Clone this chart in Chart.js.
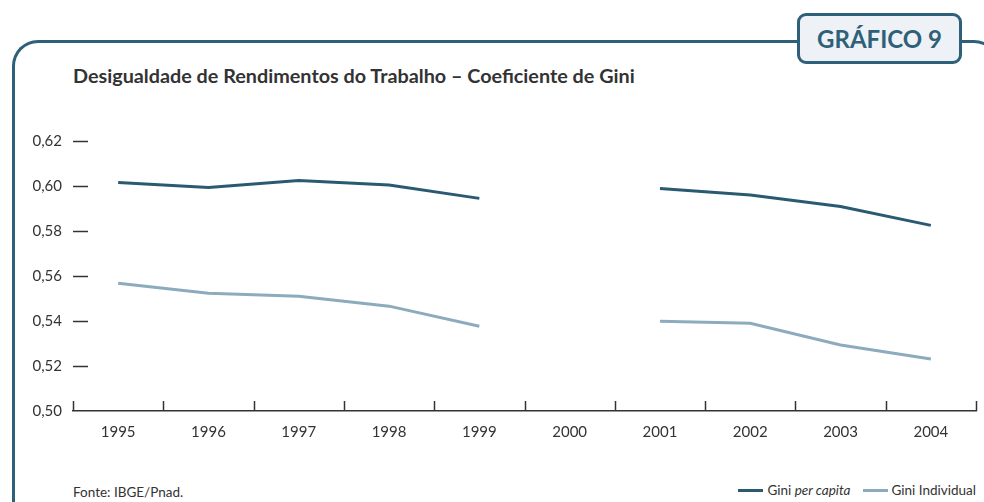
<!DOCTYPE html>
<html>
<head>
<meta charset="utf-8">
<script src="https://cdn.jsdelivr.net/npm/chart.js@4/dist/chart.umd.min.js"></script>
<style>
  html, body { margin: 0; padding: 0; background: #fff; }
  body { width: 984px; height: 502px; position: relative; overflow: hidden; font-family: Lato, "Open Sans", sans-serif; color: #333; }
  .frame { position: absolute; left: 12px; top: 40px; width: 988px; height: 520px; border: 3px solid #2e6079; border-bottom: none; border-radius: 26px 26px 0 0; box-sizing: border-box; }
  .badge { position: absolute; left: 797px; top: 13px; width: 165px; height: 51px; box-sizing: border-box; border: 3px solid #2e6079; border-radius: 9px; background: #eef2f6; color: #2e6079; font-weight: bold; font-size: 24px; text-align: center; line-height: 45px; }
  .title { position: absolute; left: 73px; top: 63px; font-weight: bold; font-size: 19.8px; color: #333; }
  .source { position: absolute; left: 73px; top: 484px; font-size: 13.5px; color: #333; }
  .legend { position: absolute; right: 8px; top: 482px; font-size: 13.5px; color: #333; display: flex; align-items: center; }
  .legend span.sw { display: inline-block; width: 25px; height: 3px; margin-right: 4px; vertical-align: middle; }
  .legend .item { margin-left: 12px; display: flex; align-items: center; }
  #wrap { position: absolute; left: 0; top: 0; width: 984px; height: 502px; }
</style>
</head>
<body>
<div class="frame"></div>
<div class="badge">GRÁFICO 9</div>
<div class="title">Desigualdade de Rendimentos do Trabalho – Coeficiente de Gini</div>
<div class="source">Fonte: IBGE/Pnad.</div>
<div class="legend">
  <div class="item"><span class="sw" style="background:#2a5a72"></span>Gini&nbsp;<i>per capita</i></div>
  <div class="item"><span class="sw" style="background:#8cabbd"></span>Gini Individual</div>
</div>
<div id="wrap"><canvas id="giniChart"></canvas></div>
<script>
const years = ['1995', '1996', '1997', '1998', '1999', '2000', '2001', '2002', '2003', '2004'];
const giniPerCapita = [0.6016, 0.5993, 0.6024, 0.6004, 0.5945, null, 0.5989, 0.5960, 0.5909, 0.5825];
const giniIndividual = [0.5568, 0.5523, 0.5510, 0.5466, 0.5377, null, 0.5399, 0.5390, 0.5293, 0.5231];
const yTicks = [0.50, 0.52, 0.54, 0.56, 0.58, 0.60, 0.62];

function formatComma(v) {
  return v.toFixed(2).replace('.', ',');
}

// little upward ticks on the x axis and short dashes for the y ticks
const axisMarks = {
  id: 'axisMarks',
  afterDraw(chart) {
    const ctx = chart.ctx;
    const area = chart.chartArea;
    const x = chart.scales.x;
    const y = chart.scales.y;
    ctx.save();
    ctx.strokeStyle = '#333';
    ctx.lineWidth = 1.5;
    const half = (x.getPixelForValue(1) - x.getPixelForValue(0)) / 2;
    for (let i = 0; i <= years.length; i++) {
      const px = Math.round(x.getPixelForValue(i) - half) + 0.5;
      ctx.beginPath();
      ctx.moveTo(px, area.bottom);
      ctx.lineTo(px, area.bottom - 10);
      ctx.stroke();
    }
    yTicks.slice(1).forEach(function (v) {
      const py = Math.round(y.getPixelForValue(v)) + 0.5;
      ctx.beginPath();
      ctx.moveTo(area.left, py);
      ctx.lineTo(area.left + 15, py);
      ctx.stroke();
    });
    ctx.restore();
  }
};

new Chart(document.getElementById('giniChart'), {
  type: 'line',
  data: {
    labels: years,
    datasets: [
      {
        label: 'Gini per capita',
        data: giniPerCapita,
        borderColor: '#2a5a72',
        borderWidth: 3,
        pointRadius: 0,
        tension: 0,
        spanGaps: false
      },
      {
        label: 'Gini Individual',
        data: giniIndividual,
        borderColor: '#8cabbd',
        borderWidth: 3,
        pointRadius: 0,
        tension: 0,
        spanGaps: false
      }
    ]
  },
  options: {
    responsive: true,
    maintainAspectRatio: false,
    animation: false,
    layout: { padding: { left: 0, right: 8, top: 141, bottom: 0 } },
    plugins: { legend: { display: false }, tooltip: { enabled: false } },
    scales: {
      x: {
        offset: true,
        grid: { display: false, drawTicks: false },
        border: { display: true, color: '#333', width: 1.5 },
        ticks: { color: '#333', font: { family: 'Lato', size: 15 }, padding: 12, maxRotation: 0 },
        afterFit: function (s) { s.height = 91; }
      },
      y: {
        min: 0.50,
        max: 0.62,
        afterBuildTicks: function (s) { s.ticks = yTicks.map(v => ({ value: v })); },
        grid: { display: false, drawTicks: false },
        border: { display: false },
        ticks: { color: '#333', font: { family: 'Lato', size: 15 }, padding: 11, callback: v => formatComma(v) },
        afterFit: function (s) { s.width = 73; }
      }
    }
  },
  plugins: [axisMarks]
});
</script>
</body>
</html>
